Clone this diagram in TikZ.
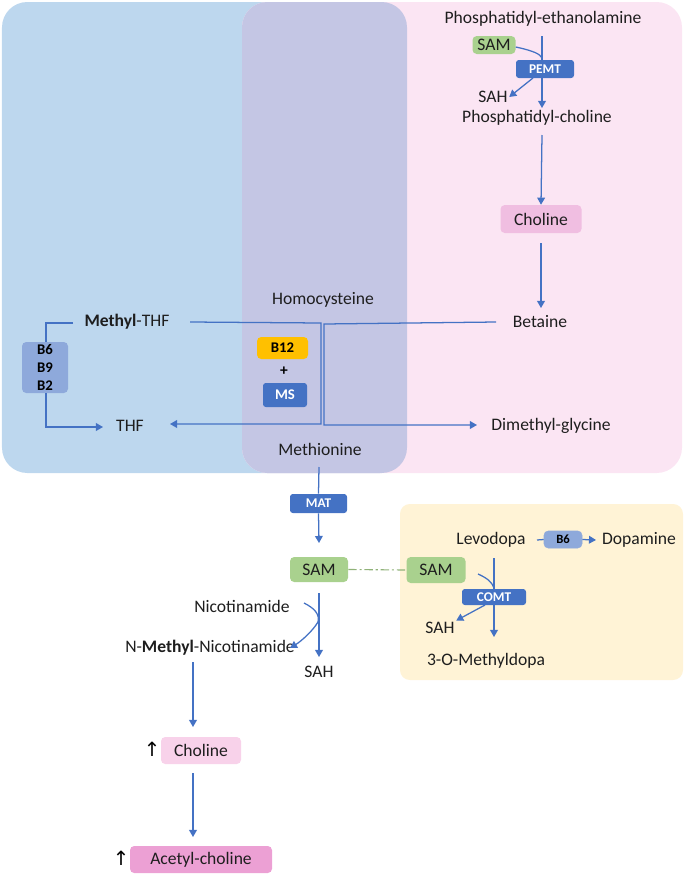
\documentclass[tikz,border=0pt]{standalone}
\usepackage{fontspec}
\setmainfont{Carlito}
\newfontfamily\arrowfont{DejaVu Sans}
\usetikzlibrary{arrows.meta,backgrounds}

\newdimen\pxu \pxu=0.025cm

\definecolor{regBlue}{RGB}{189,215,238}
\definecolor{regPink}{RGB}{251,229,243}
\definecolor{regMix}{RGB}{196,198,228}
\definecolor{regYel}{RGB}{255,243,214}
\definecolor{flowBlue}{RGB}{68,114,196}
\definecolor{enzBlue}{RGB}{68,114,196}
\definecolor{vitBlue}{RGB}{142,169,219}
\definecolor{samGreen}{RGB}{169,209,142}
\definecolor{b12Gold}{RGB}{255,192,0}
\definecolor{chPink}{RGB}{240,190,225}
\definecolor{chPinkLt}{RGB}{248,210,234}
\definecolor{achPink}{RGB}{236,160,212}
\definecolor{txt}{RGB}{30,30,30}

\tikzset{
  lbl/.style={font=\fontsize{12.5}{14}\selectfont, text=txt, inner sep=1pt},
  box/.style={lbl, rounded corners=3pt, inner sep=0pt, minimum height=#1\pxu},
  box/.default=26,
  enz/.style={fill=enzBlue, rounded corners=2pt, text=white, inner sep=0pt,
    font=\fontsize{9.5}{11}\selectfont\bfseries},
  vit/.style={rounded corners=3pt, text=black, inner sep=0pt,
    font=\fontsize{10.5}{12}\selectfont\bfseries},
  flow/.style={draw=flowBlue, line width=0.9pt},
  tip/.style={flow, -{Triangle[length=5pt,width=5.5pt]}},
  up/.style={font=\arrowfont\fontsize{14}{15}\selectfont, text=black, inner sep=0pt}
}

\begin{document}
\begin{tikzpicture}[x=0.025cm, y=-0.025cm]
	\useasboundingbox (0,0) rectangle (685,876);

	% phosphatidylcholine branch
	\node[lbl] (pe) at (543,19) {Phosphatidyl-ethanolamine};
	\node[box=18, fill=samGreen, minimum width=43\pxu] (samPe) at (494,45) {SAM};
	\node[enz, minimum width=58\pxu, minimum height=18\pxu] (pemt) at (545,69) {PEMT};
	\node[lbl] (sahPe) at (493,97) {SAH};
	\node[lbl] (pc) at (537,118) {Phosphatidyl-choline};
	\node[box=28, fill=chPink, minimum width=81\pxu] (cho) at (541,219) {Choline};
	\node[lbl] (bet) at (540,322) {Betaine};
	\coordinate (peTop) at (542,36);
	\coordinate (peJoin) at (542,58);
	\draw[flow] (samPe.east) ++(0,2) .. controls (534,51) and (540,54) .. (peJoin);
	\draw[tip] (533,78) -- (sahPe.east);
	\draw[tip] (542,135) -- (cho.north);
	\draw[tip] (cho.south) ++(0,10) -- (541,308);

	% folate / methionine cycle
	\node[lbl] (hcy) at (323,300) {Homocysteine};
	\node[lbl] (mthf) at (127,322) {\textbf{Methyl}-THF};
	\node[vit, fill=vitBlue, minimum width=46\pxu, minimum height=51\pxu, align=center] (vitB) at (45,367.5) {B6\\[1pt]B9\\[1pt]B2};
	\node[lbl] (thf) at (130,426) {THF};
	\node[vit, fill=b12Gold, minimum width=51\pxu, minimum height=22\pxu] (b12) at (282.5,348) {B12};
	\node[font=\fontsize{11}{12}\selectfont\bfseries] (plus) at (284,371) {+};
	\node[enz, minimum width=44\pxu, minimum height=24\pxu, font=\fontsize{10.5}{12}\selectfont\bfseries] (ms) at (285,395) {MS};
	\node[lbl] (dmg) at (551,426) {Dimethyl-glycine};
	\node[lbl] (met) at (320,449) {Methionine};
	\draw[tip] (mthf.east) ++(19,0) -- (321,323) -- (321,424) -- (170,424);
	\draw[tip] (bet.west) ++(-15,0) -- (324,324) -- (324,425) -- (477,425);
	\draw[flow] (73,323) -- (46,323) -- (vitB.north -| 46,0);
	\draw[tip] (vitB.south -| 46,0) -- (46,427) -- (103,427);

	% SAM to SAH
	\node[enz, minimum width=57\pxu, minimum height=19\pxu] (mat) at (318.5,503.5) {MAT};
	\node[box=25, fill=samGreen, minimum width=58\pxu] (sam) at (319,569.5) {SAM};
	\node[lbl] (nam) at (242,606) {Nicotinamide};
	\node[lbl] (mnam) at (210,648) {N-\textbf{Methyl}-Nicotinamide};
	\node[lbl] (sah) at (319,672) {SAH};
	\node[box=27, fill=chPinkLt, minimum width=80\pxu] (choLo) at (201,750.5) {Choline};
	\node[box=27, fill=achPink, minimum width=142\pxu] (ach) at (201,859.5) {Acetyl-choline};
	\node[up] (upA) at (152,749) {↑};
	\node[up] (upB) at (121,858) {↑};
	\coordinate (namJoin) at (318,622);
	\draw[flow] (319,467) -- (mat.north);
	\draw[tip] (mat.south) -- (319,543);
	\draw[tip] (sam.south) ++(0,11) -- (319,657);
	\draw[tip] (304,603) .. controls (314,608) and (320,614) .. (namJoin)
		.. controls (312,632) and (300,642) .. (290,648);
	\draw[tip] (193,662) -- (193,727);
	\draw[tip] (choLo.south -| 193,0) ++(0,9) -- (193,837);

	% levodopa branch
	\node[lbl] (ldopa) at (491,540) {Levodopa};
	\node[vit, fill=vitBlue, draw=flowBlue!60, line width=0.4pt, minimum width=38\pxu, minimum height=17\pxu, font=\fontsize{9}{10}\selectfont\bfseries] (b6) at (563,539.5) {B6};
	\node[lbl] (dopa) at (639,540) {Dopamine};
	\node[box=26, fill=samGreen, minimum width=59\pxu] (samL) at (436,570) {SAM};
	\node[enz, minimum width=64\pxu, minimum height=16\pxu] (comt) at (494,597) {COMT};
	\node[lbl] (sahL) at (440,628) {SAH};
	\node[lbl] (omd) at (486,661) {3-O-Methyldopa};
	\coordinate (ldTop) at (494,558);
	\coordinate (lJoin) at (494,588);
	\draw[flow] (537,540) -- (b6.west);
	\draw[tip] (b6.east) -- (596,540);
	\draw[flow] (478,574) .. controls (487,578) and (492,582) .. (lJoin);
	\draw[tip] (485,605) -- (sahL.north east);
	\draw[samGreen!85!black, line width=0.8pt, dash pattern=on 6pt off 2pt on 1.5pt off 2pt] (sam.east) -- (samL.west);

	% shaded regions, and the lines that run under the enzyme boxes
	\begin{scope}[on background layer]
		\fill[regBlue, rounded corners=18pt] (2,2) rectangle (405,473);
		\fill[regPink, rounded corners=18pt] (242,2) rectangle (682,473);
		\fill[regMix, rounded corners=18pt] (242,2) rectangle (407,473);
		\fill[regYel, rounded corners=7pt] (400,504) rectangle (683,680);
		\draw[tip] (peTop) -- (542,108);
		\draw[tip] (ldTop) -- (494,637);
	\end{scope}
\end{tikzpicture}
\end{document}
